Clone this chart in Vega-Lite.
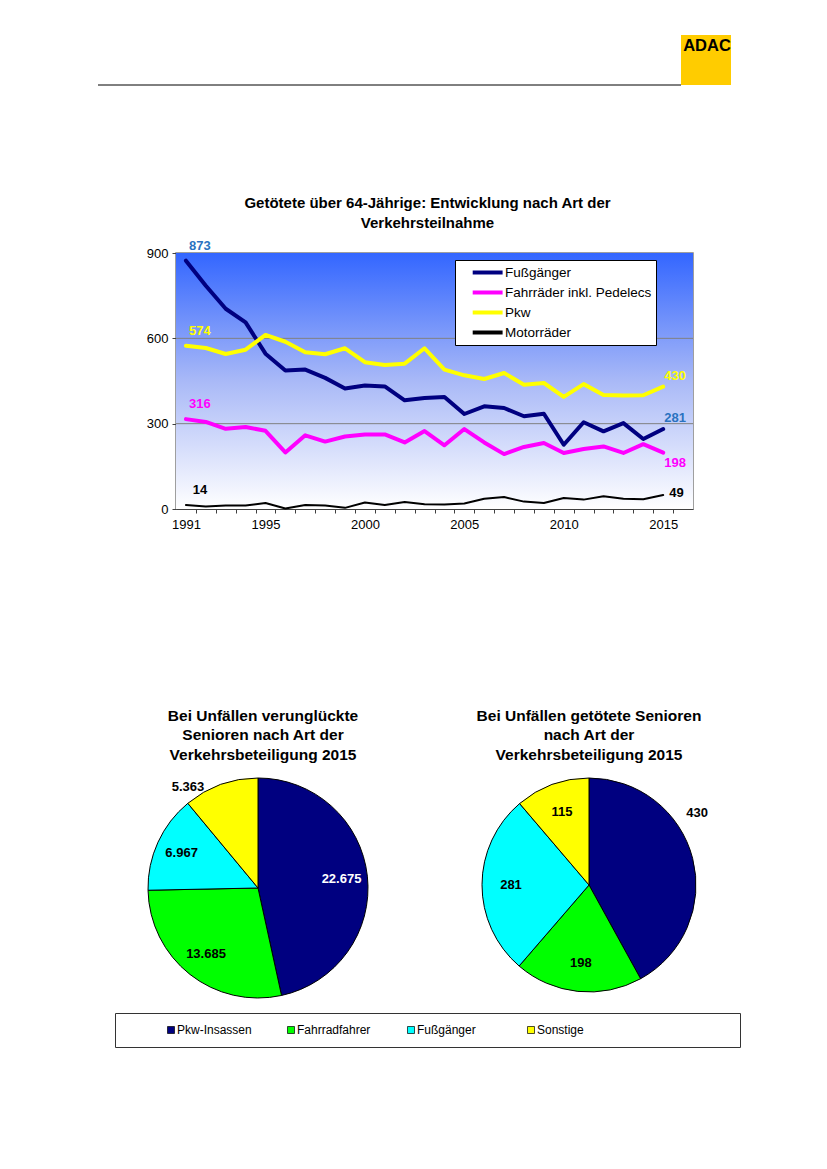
{
  "$schema": "https://vega.github.io/schema/vega-lite/v6.json",
  "padding": 0,
  "background": "white",
  "spacing": 0,
  "bounds": "flush",
  "resolve": {"scale": {"color": "independent", "fill": "independent"}, "legend": {"color": "independent", "fill": "independent"}},
  "config": {
    "view": {"stroke": null},
    "font": "Liberation Sans",
    "concat": {"spacing": 0},
    "title": {"font": "Liberation Sans", "fontWeight": "bold", "fontSize": 15, "color": "black"},
    "axis": {"labelFont": "Liberation Sans", "labelColor": "black"},
    "text": {"font": "Liberation Sans"},
    "locale": {"number": {"decimal": ",", "thousands": ".", "grouping": [3], "currency": ["", " €"]}}
  },
  "datasets": {
    "lines": [
      {"year": 1991, "series": "Fußgänger", "v": 873}, {"year": 1992, "series": "Fußgänger", "v": 785}, {"year": 1993, "series": "Fußgänger", "v": 704}, {"year": 1994, "series": "Fußgänger", "v": 656}, {"year": 1995, "series": "Fußgänger", "v": 546},
      {"year": 1996, "series": "Fußgänger", "v": 487}, {"year": 1997, "series": "Fußgänger", "v": 490}, {"year": 1998, "series": "Fußgänger", "v": 461}, {"year": 1999, "series": "Fußgänger", "v": 424}, {"year": 2000, "series": "Fußgänger", "v": 434},
      {"year": 2001, "series": "Fußgänger", "v": 431}, {"year": 2002, "series": "Fußgänger", "v": 382}, {"year": 2003, "series": "Fußgänger", "v": 390}, {"year": 2004, "series": "Fußgänger", "v": 394}, {"year": 2005, "series": "Fußgänger", "v": 334},
      {"year": 2006, "series": "Fußgänger", "v": 361}, {"year": 2007, "series": "Fußgänger", "v": 355}, {"year": 2008, "series": "Fußgänger", "v": 326}, {"year": 2009, "series": "Fußgänger", "v": 335}, {"year": 2010, "series": "Fußgänger", "v": 226},
      {"year": 2011, "series": "Fußgänger", "v": 305}, {"year": 2012, "series": "Fußgänger", "v": 273}, {"year": 2013, "series": "Fußgänger", "v": 302}, {"year": 2014, "series": "Fußgänger", "v": 246}, {"year": 2015, "series": "Fußgänger", "v": 281},
      {"year": 1991, "series": "Fahrräder inkl. Pedelecs", "v": 316}, {"year": 1992, "series": "Fahrräder inkl. Pedelecs", "v": 306}, {"year": 1993, "series": "Fahrräder inkl. Pedelecs", "v": 282}, {"year": 1994, "series": "Fahrräder inkl. Pedelecs", "v": 288}, {"year": 1995, "series": "Fahrräder inkl. Pedelecs", "v": 275},
      {"year": 1996, "series": "Fahrräder inkl. Pedelecs", "v": 199}, {"year": 1997, "series": "Fahrräder inkl. Pedelecs", "v": 259}, {"year": 1998, "series": "Fahrräder inkl. Pedelecs", "v": 237}, {"year": 1999, "series": "Fahrräder inkl. Pedelecs", "v": 255}, {"year": 2000, "series": "Fahrräder inkl. Pedelecs", "v": 262},
      {"year": 2001, "series": "Fahrräder inkl. Pedelecs", "v": 262}, {"year": 2002, "series": "Fahrräder inkl. Pedelecs", "v": 234}, {"year": 2003, "series": "Fahrräder inkl. Pedelecs", "v": 274}, {"year": 2004, "series": "Fahrräder inkl. Pedelecs", "v": 224}, {"year": 2005, "series": "Fahrräder inkl. Pedelecs", "v": 281},
      {"year": 2006, "series": "Fahrräder inkl. Pedelecs", "v": 234}, {"year": 2007, "series": "Fahrräder inkl. Pedelecs", "v": 193}, {"year": 2008, "series": "Fahrräder inkl. Pedelecs", "v": 218}, {"year": 2009, "series": "Fahrräder inkl. Pedelecs", "v": 232}, {"year": 2010, "series": "Fahrräder inkl. Pedelecs", "v": 197},
      {"year": 2011, "series": "Fahrräder inkl. Pedelecs", "v": 211}, {"year": 2012, "series": "Fahrräder inkl. Pedelecs", "v": 220}, {"year": 2013, "series": "Fahrräder inkl. Pedelecs", "v": 197}, {"year": 2014, "series": "Fahrräder inkl. Pedelecs", "v": 228}, {"year": 2015, "series": "Fahrräder inkl. Pedelecs", "v": 198},
      {"year": 1991, "series": "Pkw", "v": 574}, {"year": 1992, "series": "Pkw", "v": 566}, {"year": 1993, "series": "Pkw", "v": 545}, {"year": 1994, "series": "Pkw", "v": 560}, {"year": 1995, "series": "Pkw", "v": 612},
      {"year": 1996, "series": "Pkw", "v": 588}, {"year": 1997, "series": "Pkw", "v": 551}, {"year": 1998, "series": "Pkw", "v": 544}, {"year": 1999, "series": "Pkw", "v": 565}, {"year": 2000, "series": "Pkw", "v": 516},
      {"year": 2001, "series": "Pkw", "v": 506}, {"year": 2002, "series": "Pkw", "v": 511}, {"year": 2003, "series": "Pkw", "v": 565}, {"year": 2004, "series": "Pkw", "v": 490}, {"year": 2005, "series": "Pkw", "v": 470},
      {"year": 2006, "series": "Pkw", "v": 457}, {"year": 2007, "series": "Pkw", "v": 478}, {"year": 2008, "series": "Pkw", "v": 437}, {"year": 2009, "series": "Pkw", "v": 443}, {"year": 2010, "series": "Pkw", "v": 394},
      {"year": 2011, "series": "Pkw", "v": 439}, {"year": 2012, "series": "Pkw", "v": 401}, {"year": 2013, "series": "Pkw", "v": 399}, {"year": 2014, "series": "Pkw", "v": 400}, {"year": 2015, "series": "Pkw", "v": 430},
      {"year": 1991, "series": "Motorräder", "v": 14}, {"year": 1992, "series": "Motorräder", "v": 9}, {"year": 1993, "series": "Motorräder", "v": 12}, {"year": 1994, "series": "Motorräder", "v": 12}, {"year": 1995, "series": "Motorräder", "v": 21},
      {"year": 1996, "series": "Motorräder", "v": 2}, {"year": 1997, "series": "Motorräder", "v": 14}, {"year": 1998, "series": "Motorräder", "v": 12}, {"year": 1999, "series": "Motorräder", "v": 4}, {"year": 2000, "series": "Motorräder", "v": 23},
      {"year": 2001, "series": "Motorräder", "v": 14}, {"year": 2002, "series": "Motorräder", "v": 25}, {"year": 2003, "series": "Motorräder", "v": 17}, {"year": 2004, "series": "Motorräder", "v": 16}, {"year": 2005, "series": "Motorräder", "v": 19},
      {"year": 2006, "series": "Motorräder", "v": 36}, {"year": 2007, "series": "Motorräder", "v": 42}, {"year": 2008, "series": "Motorräder", "v": 26}, {"year": 2009, "series": "Motorräder", "v": 21}, {"year": 2010, "series": "Motorräder", "v": 39},
      {"year": 2011, "series": "Motorräder", "v": 33}, {"year": 2012, "series": "Motorräder", "v": 45}, {"year": 2013, "series": "Motorräder", "v": 36}, {"year": 2014, "series": "Motorräder", "v": 34}, {"year": 2015, "series": "Motorräder", "v": 49}
    ],
    "pie1": [
      {"cat": "Pkw-Insassen", "value": 22675, "n": 1},
      {"cat": "Fahrradfahrer", "value": 13685, "n": 2},
      {"cat": "Fußgänger", "value": 6967, "n": 3},
      {"cat": "Sonstige", "value": 5363, "n": 4}
    ],
    "pie2": [
      {"cat": "Pkw-Insassen", "value": 430, "n": 1},
      {"cat": "Fahrradfahrer", "value": 198, "n": 2},
      {"cat": "Fußgänger", "value": 281, "n": 3},
      {"cat": "Sonstige", "value": 115, "n": 4}
    ]
  },
  "vconcat": [
    {"width": 827, "height": 35, "data": {"values": []}, "mark": "point"},
    {
      "spacing": 0, "bounds": "flush",
      "hconcat": [
        {"width": 98, "height": 50, "data": {"values": []}, "mark": "point"},
        {
          "width": 583, "height": 50,
          "data": {"values": [{}]},
          "mark": {"type": "rule", "color": "black", "strokeWidth": 1},
          "encoding": {"y": {"datum": 0, "type": "quantitative", "scale": {"domain": [0, 10]}, "axis": null}}
        },
        {
          "width": 50, "height": 50,
          "view": {"fill": "#ffcc00", "stroke": null},
          "data": {"values": [{}]},
          "mark": {"type": "text", "text": "ADAC", "font": "Liberation Sans", "fontWeight": "bold", "fontSize": 16.5, "baseline": "top", "align": "center", "dy": 3, "dx": 1, "color": "black"},
          "encoding": {
            "x": {"datum": 5, "type": "quantitative", "scale": {"domain": [0, 10]}, "axis": null},
            "y": {"datum": 10, "type": "quantitative", "scale": {"domain": [0, 10]}, "axis": null}
          }
        },
        {"width": 96, "height": 50, "data": {"values": []}, "mark": "point"}
      ]
    },
    {"width": 827, "height": 218, "data": {"values": []}, "mark": "point"},
    {
      "spacing": 0, "bounds": "flush",
      "resolve": {"scale": {"color": "independent", "fill": "independent"}, "legend": {"color": "independent", "fill": "independent"}},
      "hconcat": [
        {"width": 176, "height": 256, "data": {"values": []}, "mark": "point"},
        {
          "width": 517, "height": 256,
          "view": {"stroke": "#808080", "strokeWidth": 1.5},
          "title": {"text": ["Getötete über 64-Jährige: Entwicklung nach Art der", "Verkehrsteilnahme"], "fontSize": 15, "lineHeight": 20, "offset": 9, "dx": -7, "anchor": "middle"},
          "data": {"name": "lines"},
          "layer": [
            {
              "data": {"values": [{}]},
              "mark": {"type": "rect", "fill": {"gradient": "linear", "x1": 0, "y1": 0, "x2": 0, "y2": 1, "stops": [{"offset": 0, "color": "#3366ff"}, {"offset": 0.5, "color": "#a9b9f7"}, {"offset": 1, "color": "#ffffff"}]}},
              "encoding": {}
            },
            {
              "data": {"values": [{}]},
              "mark": {"type": "rule", "color": "#808080", "strokeWidth": 1},
              "encoding": {"y": {"datum": 300, "type": "quantitative"}}
            },
            {
              "data": {"values": [{}]},
              "mark": {"type": "rule", "color": "#808080", "strokeWidth": 1},
              "encoding": {"y": {"datum": 600, "type": "quantitative"}}
            },
            {
              "transform": [{"filter": "datum.series == 'Motorräder'"}],
              "mark": {"type": "line", "strokeJoin": "round", "strokeCap": "round", "strokeWidth": 2},
              "encoding": {
                "x": {"field": "year", "type": "quantitative", "axis": null},
                "y": {"field": "v", "type": "quantitative"},
                "color": {"field": "series", "type": "nominal"}
              }
            },
            {
              "transform": [{"filter": "datum.series != 'Motorräder'"}],
              "mark": {"type": "line", "strokeJoin": "round", "strokeCap": "round", "strokeWidth": 4},
              "encoding": {
                "x": {
                  "field": "year", "type": "quantitative",
                  "scale": {"domain": [1990.5, 2016.5], "nice": false, "zero": false},
                  "axis": {"orient": "bottom", "values": [1991, 1995, 2000, 2005, 2010, 2015], "format": "d", "title": null, "grid": false, "ticks": false, "labelFontSize": 13, "labelPadding": 9, "labelFlush": false, "domainColor": "#404040"}
                },
                "y": {
                  "field": "v", "type": "quantitative",
                  "scale": {"domain": [0, 900], "nice": false},
                  "axis": {"values": [0, 300, 600, 900], "title": null, "grid": false, "tickSize": 4, "tickColor": "#404040", "domainColor": "#404040", "labelFontSize": 13, "labelPadding": 4}
                },
                "color": {
                  "field": "series", "type": "nominal",
                  "scale": {"domain": ["Fußgänger", "Fahrräder inkl. Pedelecs", "Pkw", "Motorräder"], "range": ["#000080", "#ff00ff", "#ffff00", "#000000"]},
                  "legend": {"orient": "none", "legendX": 279, "legendY": 7, "title": null, "fillColor": "white", "strokeColor": "black", "padding": 4, "symbolType": "M0.8,0H5.4", "symbolSize": 169, "symbolStrokeWidth": 4, "labelFontSize": 13.5, "labelColor": "black", "labelFont": "Liberation Sans", "rowPadding": 3, "labelOffset": 29, "labelLimit": 300}
                }
              }
            },
            {
              "transform": [{"filter": "datum.year == 1991"}],
              "mark": {"type": "text", "fontWeight": "bold", "fontSize": 13, "dx": 14, "dy": -15, "align": "center"},
              "encoding": {
                "x": {"field": "year", "type": "quantitative", "axis": {"orient": "bottom", "values": [1991.5, 1992.5, 1993.5, 1994.5, 1995.5, 1996.5, 1997.5, 1998.5, 1999.5, 2000.5, 2001.5, 2002.5, 2003.5, 2004.5, 2005.5, 2006.5, 2007.5, 2008.5, 2009.5, 2010.5, 2011.5, 2012.5, 2013.5, 2014.5, 2015.5], "labels": false, "domain": false, "grid": false, "ticks": true, "tickSize": 4, "tickColor": "#404040", "title": null}},
                "y": {"field": "v", "type": "quantitative"},
                "text": {"field": "v", "type": "quantitative", "format": "d"},
                "fill": {"field": "series", "type": "nominal", "scale": {"domain": ["Fußgänger", "Fahrräder inkl. Pedelecs", "Pkw", "Motorräder"], "range": ["#2a72c0", "#ff00ff", "#ffff00", "#000000"]}, "legend": null}
              }
            },
            {
              "transform": [{"filter": "datum.year == 2015 && (datum.series == 'Fußgänger' || datum.series == 'Pkw')"}],
              "mark": {"type": "text", "fontWeight": "bold", "fontSize": 13, "dx": 1, "dy": -11, "align": "left"},
              "encoding": {
                "x": {"field": "year", "type": "quantitative", "axis": null},
                "y": {"field": "v", "type": "quantitative"},
                "text": {"field": "v", "type": "quantitative", "format": "d"},
                "fill": {"field": "series", "type": "nominal", "legend": null}
              }
            },
            {
              "transform": [{"filter": "datum.year == 2015 && datum.series == 'Fahrräder inkl. Pedelecs'"}],
              "mark": {"type": "text", "fontWeight": "bold", "fontSize": 13, "dx": 1, "dy": 10, "align": "left"},
              "encoding": {
                "x": {"field": "year", "type": "quantitative", "axis": null},
                "y": {"field": "v", "type": "quantitative"},
                "text": {"field": "v", "type": "quantitative", "format": "d"},
                "fill": {"field": "series", "type": "nominal", "legend": null}
              }
            },
            {
              "transform": [{"filter": "datum.year == 2015 && datum.series == 'Motorräder'"}],
              "mark": {"type": "text", "fontWeight": "bold", "fontSize": 13, "dx": 6, "dy": -2, "align": "left"},
              "encoding": {
                "x": {"field": "year", "type": "quantitative", "axis": null},
                "y": {"field": "v", "type": "quantitative"},
                "text": {"field": "v", "type": "quantitative", "format": "d"},
                "fill": {"field": "series", "type": "nominal", "legend": null}
              }
            }
          ],
          "resolve": {"axis": {"x": "independent"}}
        },
        {"width": 134, "height": 256, "data": {"values": []}, "mark": "point"}
      ]
    },
    {"width": 827, "height": 525, "data": {"values": []}, "mark": "point"},
    {
      "spacing": 0, "bounds": "flush",
      "hconcat": [
        {"width": 148, "height": 220, "data": {"values": []}, "mark": "point"},
        {
          "width": 220, "height": 220,
          "title": {"text": ["Bei Unfällen verunglückte", "Senioren nach Art der", "Verkehrsbeteiligung 2015"], "fontSize": 15.5, "lineHeight": 19.5, "offset": 13, "dx": 5, "anchor": "middle", "frame": "group"},
          "data": {"name": "pie1"},
          "encoding": {
            "theta": {"field": "value", "type": "quantitative", "stack": true},
            "order": {"field": "n", "type": "quantitative"},
            "color": {"field": "cat", "type": "nominal", "scale": {"domain": ["Pkw-Insassen", "Fahrradfahrer", "Fußgänger", "Sonstige"], "range": ["#000080", "#00ff00", "#00ffff", "#ffff00"]}, "legend": null}
          },
          "layer": [
            {"mark": {"type": "arc", "outerRadius": 110, "stroke": "black", "strokeWidth": 1}},
            {
              "mark": {"type": "text", "radius": 84, "fontSize": 13, "fontWeight": "bold"},
              "encoding": {
                "text": {"condition": {"test": "datum.cat == 'Sonstige'", "value": ""}, "field": "value", "type": "quantitative", "format": ",d"},
                "color": {"condition": {"test": "datum.cat == 'Pkw-Insassen'", "value": "white"}, "value": "black"}
              }
            },
            {
              "mark": {"type": "text", "radius": 123, "thetaOffset": -0.26, "fontSize": 13, "fontWeight": "bold"},
              "encoding": {
                "text": {"condition": {"test": "datum.cat != 'Sonstige'", "value": ""}, "field": "value", "type": "quantitative", "format": ",d"},
                "color": {"value": "black"}
              }
            }
          ]
        },
        {"width": 114, "height": 220, "data": {"values": []}, "mark": "point"},
        {
          "width": 214, "height": 214,
          "title": {"text": ["Bei Unfällen getötete Senioren", "nach Art der", "Verkehrsbeteiligung  2015"], "fontSize": 15.5, "lineHeight": 19.5, "offset": 13, "dx": 0, "anchor": "middle", "frame": "group"},
          "data": {"name": "pie2"},
          "encoding": {
            "theta": {"field": "value", "type": "quantitative", "stack": true},
            "order": {"field": "n", "type": "quantitative"},
            "color": {"field": "cat", "type": "nominal", "scale": {"domain": ["Pkw-Insassen", "Fahrradfahrer", "Fußgänger", "Sonstige"], "range": ["#000080", "#00ff00", "#00ffff", "#ffff00"]}, "legend": null}
          },
          "layer": [
            {"mark": {"type": "arc", "outerRadius": 107, "stroke": "black", "strokeWidth": 1}},
            {
              "mark": {"type": "text", "radius": 78, "fontSize": 13, "fontWeight": "bold"},
              "encoding": {
                "text": {"condition": {"test": "datum.cat == 'Pkw-Insassen'", "value": ""}, "field": "value", "type": "quantitative", "format": ",d"},
                "color": {"value": "black"}
              }
            },
            {
              "mark": {"type": "text", "radius": 130, "thetaOffset": -0.337, "fontSize": 13, "fontWeight": "bold"},
              "encoding": {
                "text": {"condition": {"test": "datum.cat != 'Pkw-Insassen'", "value": ""}, "field": "value", "type": "quantitative", "format": ",d"},
                "color": {"value": "black"}
              }
            }
          ]
        },
        {"width": 131, "height": 220, "data": {"values": []}, "mark": "point"}
      ]
    },
    {"width": 827, "height": 235, "data": {"values": []}, "mark": "point"},
    {
      "spacing": 0, "bounds": "flush",
      "hconcat": [
        {"width": 115, "height": 34, "data": {"values": []}, "mark": "point"},
        {
          "width": 625, "height": 34,
          "view": {"stroke": "#333333", "strokeWidth": 1},
          "data": {"name": "pie1"},
          "encoding": {
            "x": {"field": "cat", "type": "nominal", "sort": null, "scale": {"type": "point", "padding": 0, "domain": ["Pkw-Insassen", "Fahrradfahrer", "Fußgänger", "Sonstige"], "range": [56, 416]}, "axis": null}
          },
          "layer": [
            {
              "mark": {"type": "square", "size": 49, "filled": true, "stroke": "black", "strokeWidth": 0.7, "opacity": 1},
              "encoding": {"color": {"field": "cat", "type": "nominal", "scale": {"domain": ["Pkw-Insassen", "Fahrradfahrer", "Fußgänger", "Sonstige"], "range": ["#000080", "#00ff00", "#00ffff", "#ffff00"]}, "legend": null}}
            },
            {
              "mark": {"type": "text", "align": "left", "baseline": "middle", "dx": 6, "fontSize": 12, "color": "black"},
              "encoding": {"text": {"field": "cat", "type": "nominal"}}
            }
          ]
        },
        {"width": 87, "height": 34, "data": {"values": []}, "mark": "point"}
      ]
    },
    {"width": 827, "height": 156, "data": {"values": []}, "mark": "point"}
  ]
}
